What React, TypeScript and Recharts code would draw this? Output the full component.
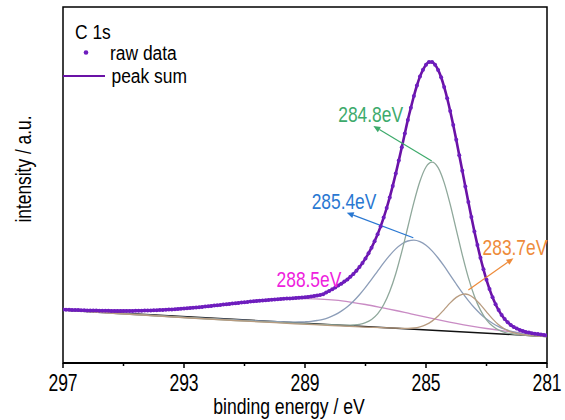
import React from 'react';
import { LineChart, Line, XAxis, YAxis, ReferenceLine, ReferenceDot, ReferenceArea, Label } from 'recharts';

// ---------- data (binding energy in eV, intensity in a.u.) ----------
const rawStartEnergy = 297;
const rawStepEnergy = 0.1;
const rawIntensity = [
  53.5, 53.3, 53.2, 53.1, 53.0, 52.9, 52.8, 52.7, 52.6, 52.5,
  52.4, 52.4, 52.3, 52.2, 52.2, 52.2, 52.1, 52.1, 52.1, 52.1,
  52.1, 52.1, 52.1, 52.1, 52.2, 52.2, 52.3, 52.4, 52.5, 52.6,
  52.7, 52.8, 53.0, 53.1, 53.3, 53.4, 53.6, 53.8, 54.0, 54.3,
  54.5, 54.7, 55.0, 55.3, 55.5, 55.8, 56.1, 56.4, 56.7, 57.1,
  57.4, 57.7, 58.0, 58.4, 58.7, 59.1, 59.4, 59.7, 60.1, 60.4,
  60.7, 61.0, 61.4, 61.7, 62.0, 62.3, 62.5, 62.8, 63.0, 63.3,
  63.6, 63.8, 64.0, 64.2, 64.4, 64.6, 64.8, 65.1, 65.3, 65.5,
  65.8, 66.1, 66.5, 66.9, 67.4, 68.0, 68.7, 70.6, 72.0, 73.7,
  75.5, 77.6, 79.3, 81.4, 83.6, 86.2, 89.1, 92.3, 96.0, 100.0,
  104.6, 109.7, 115.3, 121.7, 128.7, 136.6, 145.4, 155.0, 165.6, 177.1,
  189.4, 202.4, 215.8, 229.5, 243.1, 255.2, 267.0, 277.5, 286.4, 293.2,
  298.3, 300.9, 300.9, 298.3, 293.1, 285.7, 276.1, 264.8, 252.0, 238.0,
  223.2, 207.8, 192.2, 176.5, 161.1, 146.0, 131.6, 118.0, 105.3, 93.7,
  83.2, 73.9, 65.8, 58.8, 52.9, 48.0, 44.0, 40.7, 38.1, 36.0,
  34.4, 33.0, 32.0, 31.1, 30.4, 29.8, 29.3, 28.9, 28.5, 28.1,
  27.8,
];

const background = [[297, 53.0], [281, 26.5]];

const peak2848 = [
  [297, 53.0], [288.0, 38.1], [287.8, 37.9], [287.6, 37.8], [287.4, 38.0], [287.2, 38.6],
  [287.0, 40.3], [286.8, 43.5], [286.6, 49.1], [286.4, 58.2], [286.2, 71.5], [286.0, 89.3],
  [285.8, 111.4], [285.6, 136.0], [285.4, 160.6], [285.2, 181.7], [285.0, 196.0], [284.8, 200.8],
  [284.6, 195.3], [284.4, 180.4], [284.2, 158.6], [284.0, 133.4], [283.8, 108.1], [283.6, 85.4],
  [283.4, 66.8], [283.2, 52.9], [283.0, 43.2], [282.8, 36.9], [282.6, 33.0], [282.4, 30.7],
  [282.2, 29.3], [282.0, 28.5], [281.8, 28.0], [281.6, 27.5], [281, 26.5],
];

const peak2854 = [
  [297, 53.0], [290.0, 41.5], [289.8, 41.3], [289.6, 41.1], [289.4, 40.9], [289.2, 41.0],
  [289.0, 41.2], [288.8, 41.6], [288.6, 42.5], [288.4, 43.7], [288.2, 45.7], [288.0, 48.3],
  [287.8, 51.9], [287.6, 56.3], [287.4, 61.8], [287.2, 68.3], [287.0, 75.7], [286.8, 83.6],
  [286.6, 91.9], [286.4, 100.1], [286.2, 107.6], [286.0, 114.1], [285.8, 119.0], [285.6, 122.0],
  [285.4, 122.8], [285.2, 121.3], [285.0, 117.7], [284.8, 112.1], [284.6, 105.0], [284.4, 96.8],
  [284.2, 87.9], [284.0, 79.0], [283.8, 70.4], [283.6, 62.4], [283.4, 55.2], [283.2, 49.1],
  [283.0, 43.9], [282.8, 39.7], [282.6, 36.4], [282.4, 33.8], [282.2, 31.9], [282.0, 30.4],
  [281.8, 29.2], [281.6, 28.4], [281.4, 27.7], [281.2, 27.1], [281.0, 26.7],
];

const peak2837 = [
  [297, 53.0], [286.0, 34.9], [285.8, 34.7], [285.6, 34.7], [285.4, 35.0], [285.2, 36.1],
  [285.0, 38.3], [284.8, 41.9], [284.6, 47.0], [284.4, 53.4], [284.2, 60.1], [284.0, 65.6],
  [283.8, 68.7], [283.7, 69.0], [283.6, 68.4], [283.4, 64.6], [283.2, 58.4], [283.0, 51.1],
  [282.8, 44.1], [282.6, 38.2], [282.4, 34.0], [282.2, 31.1], [282.0, 29.4], [281.8, 28.4],
  [281.6, 27.7], [281.4, 27.2], [281.0, 26.5],
];

const peak2885 = [
  [297, 53.5], [296.5, 52.9], [296, 52.4], [295.5, 52.2], [295, 52.1], [294.5, 52.2],
  [294, 52.7], [293.5, 53.4], [293, 54.5], [292.5, 55.8], [292, 57.4], [291.5, 59.1],
  [291, 60.7], [290.5, 62.3], [290, 63.5], [289.5, 64.2], [289, 64.4], [288.5, 63.9],
  [288, 62.8], [287.5, 60.9], [287, 58.5], [286.5, 55.6], [286, 52.5], [285.5, 49.1],
  [285, 45.8], [284.5, 42.6], [284, 39.6], [283.5, 36.9], [283, 34.5], [282.5, 32.4],
  [282, 30.6], [281.5, 29.0], [281, 27.6],
];

const majorTicks = [297, 293, 289, 285, 281];
const allTicks = [297, 295, 293, 291, 289, 287, 285, 283, 281];

const peakLabels = ['284.8eV', '285.4eV', '283.7eV', '288.5eV'];
// label anchor / arrow (tail -> head) in data units
const labelAnchors = [
  { e: 287.9, i: 240.7, tail: [284.81, 202], head: [286.74, 237] },
  { e: 288.78, i: 153.7, tail: [285.42, 125.3], head: [287.62, 150.3] },
  { e: 283.13, i: 108, tail: [283.6, 73], head: [282.11, 104.7] },
  { e: 289.94, i: 76.3, tail: null, head: null },
];

// ---------- styles ----------
const FONT = "'Liberation Sans', Arial, Helvetica, sans-serif";
const FS = 22;
const SX = 0.79;
const labelColors = ['#3DAA6B', '#2A78D2', '#EE8B3A', '#EE22DD'];
const sumColor = '#6A12A6';
const dotColor = '#6E1DBE';

const toPoints = (arr: number[][]) => arr.map(([e, v]) => ({ e, v }));
const rawData = rawIntensity.map((v, i) => ({
  e: Math.round((rawStartEnergy - i * rawStepEnergy) * 10) / 10,
  raw: v,
}));

const NarrowText = ({ x, y, children, fill = '#000', size = FS, anchor = 'start', sx = SX }: any) => (
  <g transform={`translate(${x},${y}) scale(${sx},1)`}>
    <text x={0} y={0} fontSize={size} fill={fill} textAnchor={anchor} fontFamily={FONT}>
      {children}
    </text>
  </g>
);

const XTick = (props: any) => {
  const { x, y, payload } = props;
  const axisY = y - 7;
  const major = majorTicks.includes(payload.value);
  return (
    <g>
      <line x1={x} x2={x} y1={axisY} y2={axisY + (major ? 5 : 3)} stroke="#000" strokeWidth={1.5} />
      {major && (
        <NarrowText x={x} y={axisY + 28} size={24} anchor="middle" sx={0.73}>
          {payload.value}
        </NarrowText>
      )}
    </g>
  );
};

const XTitle = (props: any) => {
  const vb = props.viewBox || { x: 63, y: 363, width: 484, height: 57 };
  return (
    <NarrowText x={vb.x + vb.width * 0.467} y={vb.y + 51} anchor="middle" sx={0.8}>
      binding energy / eV
    </NarrowText>
  );
};

const YTitle = (props: any) => {
  const vb = props.viewBox || { x: 0, y: 7, width: 63, height: 356 };
  return (
    <g transform={`translate(${vb.x + 31},${vb.y + 162}) rotate(-90) scale(${SX},1)`}>
      <text x={0} y={0} fontSize={FS} textAnchor="middle" fontFamily={FONT} fill="#000">
        intensity / a.u.
      </text>
    </g>
  );
};

const makeArrow = (color: string) => (props: any) => {
  const { x1, y1, x2, y2 } = props;
  const ang = Math.atan2(y2 - y1, x2 - x1);
  const L = 7;
  const W = 3;
  const bx = x2 - L * Math.cos(ang);
  const by = y2 - L * Math.sin(ang);
  const px = -Math.sin(ang) * W;
  const py = Math.cos(ang) * W;
  return (
    <g>
      <line x1={x1} y1={y1} x2={bx} y2={by} stroke={color} strokeWidth={1.2} />
      <polygon points={`${x2},${y2} ${bx + px},${by + py} ${bx - px},${by - py}`} fill={color} />
    </g>
  );
};

export default function App() {
  return (
    <div style={{ position: 'absolute', left: 0, top: 0, width: 565, height: 420, background: '#fff' }}>
      <LineChart width={565} height={420} data={rawData} margin={{ top: 7, right: 18, bottom: 0, left: 0 }}>
        <XAxis
          dataKey="e"
          type="number"
          domain={[281, 297]}
          reversed
          allowDataOverflow
          ticks={allTicks}
          interval={0}
          height={57}
          tickSize={5}
          tickMargin={2}
          tickLine={false}
          axisLine={{ stroke: '#000', strokeWidth: 2 }}
          tick={<XTick />}
        >
          <Label content={<XTitle />} />
        </XAxis>
        <YAxis type="number" domain={[0, 356]} allowDataOverflow width={63} tick={false} tickLine={false} axisLine={false}>
          <Label content={<YTitle />} />
        </YAxis>

        <Line data={toPoints(background)} dataKey="v" type="linear" stroke="#111" strokeWidth={1.5} dot={false} isAnimationActive={false} />
        <Line data={toPoints(peak2885)} dataKey="v" type="monotone" stroke="#C98BC4" strokeWidth={1.3} dot={false} isAnimationActive={false} />
        <Line data={toPoints(peak2854)} dataKey="v" type="monotone" stroke="#8C9DB8" strokeWidth={1.3} dot={false} isAnimationActive={false} />
        <Line data={toPoints(peak2848)} dataKey="v" type="monotone" stroke="#8FA89B" strokeWidth={1.3} dot={false} isAnimationActive={false} />
        <Line data={toPoints(peak2837)} dataKey="v" type="monotone" stroke="#B89C80" strokeWidth={1.3} dot={false} isAnimationActive={false} />
        <Line dataKey="raw" type="monotone" stroke={sumColor} strokeWidth={2.6} dot={false} isAnimationActive={false} />
        <Line dataKey="raw" type="monotone" stroke="none" dot={{ r: 2, fill: dotColor, stroke: 'none' }} isAnimationActive={false} />

        {labelAnchors.map((a, k) =>
          a.tail && a.head ? (
            <ReferenceLine
              key={`arr${k}`}
              segment={[{ x: a.tail[0], y: a.tail[1] }, { x: a.head[0], y: a.head[1] }]}
              ifOverflow="visible"
              shape={makeArrow(labelColors[k])}
            />
          ) : null
        )}
        {labelAnchors.map((a, k) => (
          <ReferenceDot
            key={`lab${k}`}
            x={a.e}
            y={a.i}
            r={0}
            ifOverflow="visible"
            shape={(p: any) => (
              <NarrowText x={p.cx} y={p.cy} fill={labelColors[k]}>
                {peakLabels[k]}
              </NarrowText>
            )}
          />
        ))}
        <ReferenceArea x1={281} x2={297} y1={0} y2={356} fill="none" stroke="#000" strokeWidth={1.5} ifOverflow="visible" />
      </LineChart>
      <svg width={565} height={120} style={{ position: 'absolute', left: 0, top: 0, pointerEvents: 'none' }}>
        <NarrowText x={75} y={39} size={21} sx={0.83}>C 1s</NarrowText>
        <circle cx={86} cy={52.5} r={2.3} fill={dotColor} />
        <NarrowText x={110} y={60} size={21} sx={0.83}>raw data</NarrowText>
        <line x1={63} x2={105} y1={76} y2={76} stroke={sumColor} strokeWidth={2} />
        <NarrowText x={111.5} y={83} size={21} sx={0.83}>peak sum</NarrowText>
      </svg>
    </div>
  );
}
